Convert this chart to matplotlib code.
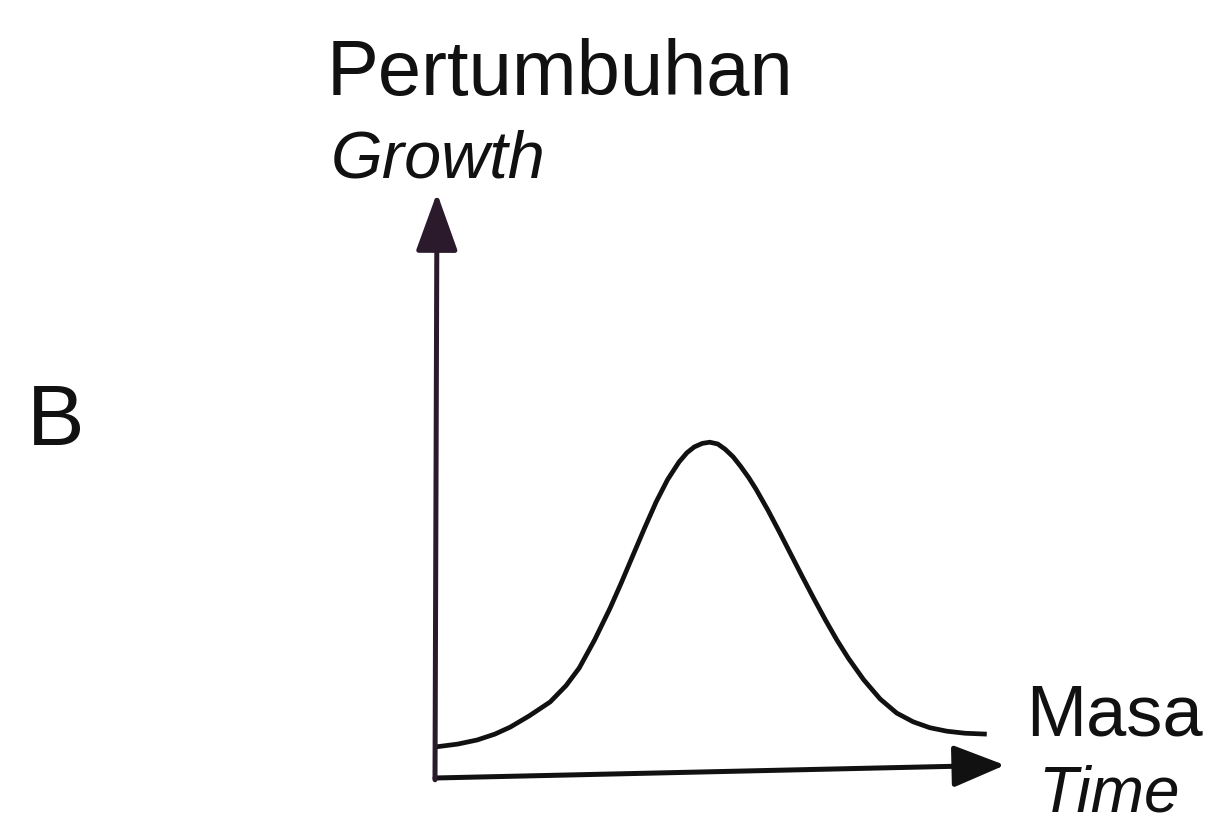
import matplotlib.pyplot as plt

# curve (time 0..10 along the x-axis, growth 0..10 up the y-axis)
time_pts = [0.0, 0.40, 0.74, 1.05, 1.32, 1.65, 2.02, 2.30, 2.53, 2.80, 3.07, 3.27, 3.47,
            3.68, 3.88, 4.08, 4.28, 4.42, 4.55, 4.69, 4.82, 4.96, 5.09, 5.23, 5.36,
            5.50, 5.63, 5.84, 6.04, 6.24, 6.44, 6.65, 6.85, 7.05, 7.25, 7.52, 7.81,
            8.10, 8.39, 8.68, 8.98, 9.30, 9.68]
growth_pts = [0.53, 0.58, 0.65, 0.75, 0.87, 1.06, 1.30, 1.58, 1.88, 2.36, 2.90, 3.34, 3.80,
              4.28, 4.72, 5.10, 5.40, 5.56, 5.66, 5.72, 5.74, 5.71, 5.62, 5.49, 5.33,
              5.14, 4.94, 4.58, 4.21, 3.83, 3.45, 3.06, 2.70, 2.36, 2.05, 1.68, 1.35,
              1.11, 0.96, 0.86, 0.80, 0.765, 0.75]

x_axis_end = (10.0, 0.22)
y_axis_end = (0.035, 10.0)

labels = {
    'Pertumbuhan': dict(x=327, y=95, size=56, style='normal'),
    'Growth': dict(x=331, y=177, size=48, style='italic'),
    'B': dict(x=27, y=445, size=62, style='normal'),
    'Masa': dict(x=1026, y=735, size=52, style='normal'),
    'Time': dict(x=1038, y=812, size=46, style='italic'),
}

W, H = 1225, 826
fig = plt.figure(figsize=(W / 100, H / 100), dpi=100)
fig.patch.set_facecolor('white')

ax = fig.add_axes([435 / W, (H - 778) / H, 570 / W, 585 / H])
ax.set_xlim(0, 10)
ax.set_ylim(0, 10)
ax.axis('off')

ax.plot(time_pts, growth_pts, color='#111111', lw=3.4, solid_capstyle='butt',
        solid_joinstyle='round', clip_on=False)

ax.annotate('', xy=x_axis_end, xytext=(0, 0),
            arrowprops=dict(arrowstyle='-|>,head_length=3.2,head_width=1.3',
                            mutation_scale=10, lw=3.6, color='#111111',
                            shrinkA=0, shrinkB=0),
            annotation_clip=False)
ax.annotate('', xy=y_axis_end, xytext=(0, -0.03),
            arrowprops=dict(arrowstyle='-|>,head_length=3.6,head_width=1.3',
                            mutation_scale=10, lw=3.6, color='#2a1a2c',
                            shrinkA=0, shrinkB=0),
            annotation_clip=False)

for text, opt in labels.items():
    fig.text(opt['x'] / W, 1 - opt['y'] / H, text, fontsize=opt['size'],
             fontstyle=opt['style'], family='Liberation Sans', color='#111111',
             ha='left', va='baseline')

fig.savefig('out.png', dpi=100, facecolor='white')
